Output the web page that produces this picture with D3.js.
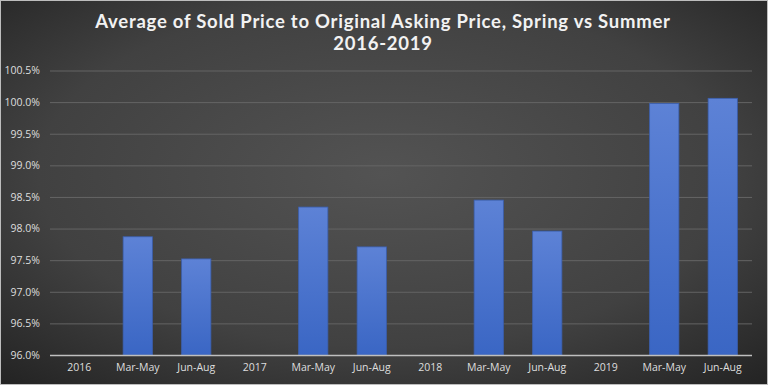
<!DOCTYPE html>
<html>
<head>
<meta charset="utf-8">
<script src="https://cdn.jsdelivr.net/npm/d3@7"></script>
<style>
  html, body { margin: 0; padding: 0; background: #fff; }
  svg { display: block; }
</style>
</head>
<body>
<div id="chart"></div>
<script>
var categories = ["2016", "Mar-May", "Jun-Aug", "2017", "Mar-May", "Jun-Aug",
                  "2018", "Mar-May", "Jun-Aug", "2019", "Mar-May", "Jun-Aug"];
var values = [null, 97.87, 97.52, null, 98.34, 97.71, null, 98.45, 97.96, null, 99.98, 100.06];
var yTicks = [96.0, 96.5, 97.0, 97.5, 98.0, 98.5, 99.0, 99.5, 100.0, 100.5];
var titleLines = ["Average of Sold Price to Original Asking Price, Spring vs Summer", "2016-2019"];

var W = 768, H = 385;
var margin = { top: 70.5, right: 16, bottom: 30, left: 50 };

var svg = d3.select("#chart")
    .append("svg")
    .attr("width", W)
    .attr("height", H);

var defs = svg.append("defs");
var bg = defs.append("radialGradient")
    .attr("id", "bg")
    .attr("cx", "50%").attr("cy", "45%").attr("r", "75%");
bg.append("stop").attr("offset", "0%").attr("stop-color", "#535353");
bg.append("stop").attr("offset", "60%").attr("stop-color", "#414141");
bg.append("stop").attr("offset", "100%").attr("stop-color", "#222222");

var barGrad = defs.append("linearGradient")
    .attr("id", "bar")
    .attr("x1", 0).attr("y1", 0).attr("x2", 0).attr("y2", 1);
barGrad.append("stop").attr("offset", "0%").attr("stop-color", "#5d82d6");
barGrad.append("stop").attr("offset", "100%").attr("stop-color", "#3a66c4");

// background + thin frame
svg.append("rect")
    .attr("x", 0).attr("y", 0)
    .attr("width", W).attr("height", H)
    .attr("fill", "url(#bg)");
svg.append("rect")
    .attr("x", 0.5).attr("y", 0.5)
    .attr("width", W - 1).attr("height", H - 1)
    .attr("fill", "none")
    .attr("stroke", "#bdbdbd")
    .attr("stroke-width", 1);

// title
svg.append("g")
    .selectAll("text")
    .data(titleLines)
    .enter()
    .append("text")
    .attr("x", W / 2 - 1)
    .attr("y", function (d, i) { return 28 + i * 22; })
    .attr("text-anchor", "middle")
    .attr("fill", "#f2f2f2")
    .style("font-family", "Lato, 'Open Sans', sans-serif")
    .style("font-weight", "bold")
    .style("font-size", "18.5px")
    .style("letter-spacing", "0.75px")
    .text(function (d) { return d; });

var x0 = margin.left, x1 = W - margin.right;
var yBottom = 355, yTop = margin.top;

var xScale = d3.scaleBand()
    .domain(d3.range(categories.length))
    .range([x0, x1])
    .paddingInner(0.5)
    .paddingOuter(0.25);

var yScale = d3.scaleLinear()
    .domain([96.0, 100.5])
    .range([yBottom, yTop]);

// gridlines
svg.append("g")
    .attr("class", "grid")
    .attr("transform", "translate(" + x0 + ",0)")
    .call(d3.axisLeft(yScale)
        .tickValues(yTicks.slice(1))
        .tickSize(-(x1 - x0))
        .tickFormat(""))
    .call(function (g) { g.select(".domain").remove(); })
    .selectAll("line")
    .attr("stroke", "#646464")
    .attr("stroke-width", 1);

// y axis labels
svg.append("g")
    .attr("class", "y axis")
    .attr("transform", "translate(" + (x0 - 10) + ",0)")
    .call(d3.axisLeft(yScale)
        .tickValues(yTicks)
        .tickSize(0)
        .tickPadding(0)
        .tickFormat(function (d) { return d.toFixed(1) + "%"; }))
    .call(function (g) { g.select(".domain").remove(); })
    .selectAll("text")
    .attr("fill", "#dedede")
    .style("font-family", "'Open Sans', sans-serif")
    .style("font-size", "10.5px");

// bars
svg.append("g")
    .selectAll(".bar")
    .data(values.map(function (v, i) { return { i: i, v: v }; })
        .filter(function (d) { return d.v !== null; }))
    .enter()
    .append("rect")
    .attr("class", "bar")
    .attr("x", function (d) { return xScale(d.i); })
    .attr("y", function (d) { return yScale(d.v); })
    .attr("width", xScale.bandwidth())
    .attr("height", function (d) { return yScale(96.0) - yScale(d.v); })
    .attr("fill", "url(#bar)")
    .attr("stroke", "#3b5fae")
    .attr("stroke-width", 0.8);

// x axis
var xAxis = svg.append("g")
    .attr("class", "x axis")
    .attr("transform", "translate(0," + yBottom + ")")
    .call(d3.axisBottom(xScale)
        .tickSize(0)
        .tickPadding(9)
        .tickFormat(function (i) { return categories[i]; }));
xAxis.select(".domain")
    .attr("d", "M" + x0 + ",0.5H" + x1)
    .attr("stroke", "#bfbfbf")
    .attr("stroke-width", 1.5);
xAxis.selectAll("text")
    .attr("fill", "#dedede")
    .style("font-family", "'Open Sans', sans-serif")
    .style("font-size", "10.5px");
</script>
</body>
</html>
